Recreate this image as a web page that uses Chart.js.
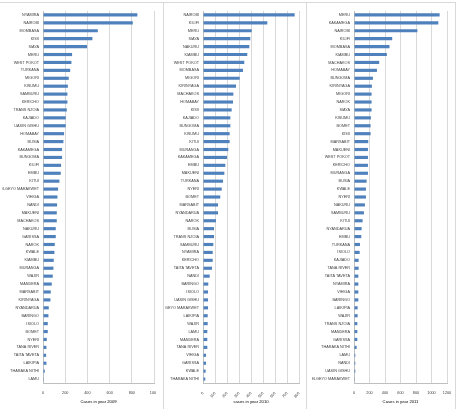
<!DOCTYPE html>
<html>
<head>
<meta charset="utf-8">
<script src="https://cdn.jsdelivr.net/npm/chart.js@4/dist/chart.umd.min.js"></script>
<style>
  html, body { margin: 0; padding: 0; background: #fff; }
  #wrap { position: relative; width: 463px; height: 409px; overflow: hidden; }
  canvas { position: absolute; top: 0; }
  .line { position: absolute; background: #d9d9d9; }
</style>
</head>
<body>
<div id="wrap">
  <div class="line" style="left:0;top:2px;width:456px;height:1px"></div>
  <div class="line" style="left:163px;top:2px;width:1px;height:407px"></div>
  <div class="line" style="left:306px;top:2px;width:1px;height:407px"></div>
  <div class="line" style="left:455px;top:2px;width:1px;height:407px"></div>
  <canvas id="c2009" width="154" height="409" style="left:2px"></canvas>
  <canvas id="c2010" width="141" height="409" style="left:165px"></canvas>
  <canvas id="c2011" width="144" height="409" style="left:312px"></canvas>
</div>
<script>
// cases per county, 2009
var counties2009 = ['NYAMIRA', 'NAIROBI', 'MOMBASA', 'KISII', 'SIAYA', 'MERU', 'WEST POKOT', 'TURKANA',
  'MIGORI', 'KISUMU', 'SAMBURU', 'KERICHO', 'TRANS NZOIA', 'KAJIADO', 'UASIN GISHU', 'HOMABAY',
  'BUSIA', 'KAKAMEGA', 'BUNGOMA', 'KILIFI', 'EMBU', 'KITUI', 'ELGEYO MARAKWET', 'VIHIGA', 'NANDI',
  'MAKUENI', 'MACHAKOS', 'NAKURU', 'GARISSA', 'NAROK', 'KWALE', 'KIAMBU', 'MURANGA', 'WAJIR',
  'MANDERA', 'MARSABIT', 'KIRINYAGA', 'NYANDARUA', 'BARINGO', 'ISIOLO', 'BOMET', 'NYERI',
  'TANA RIVER', 'TAITA TAVETA', 'LAIKIPIA', 'THARAKA NITHI', 'LAMU'];
var cases2009 = [850, 809, 494, 445, 397, 262, 256, 245, 232, 224, 220, 220, 214, 205, 205, 190,
  184, 172, 172, 163, 160, 148, 136, 130, 127, 124, 124, 115, 115, 106, 103, 97, 94, 88,
  79, 70, 67, 52, 49, 43, 43, 34, 31, 28, 31, 16, 7];
var ticks2009 = [0, 200, 400, 600, 800, 1000];

// cases per county, 2010
var counties2010 = ['NAIROBI', 'KILIFI', 'MERU', 'SIAYA', 'NAKURU', 'KIAMBU', 'WEST POKOT', 'MOMBASA',
  'MIGORI', 'KIRINYAGA', 'MACHAKOS', 'HOMABAY', 'KISII', 'KAJIADO', 'BUNGOMA', 'KISUMU',
  'KITUI', 'MURANGA', 'KAKAMEGA', 'EMBU', 'MAKUENI', 'TURKANA', 'NYERI', 'BOMET', 'MARSABIT',
  'NYANDARUA', 'NAROK', 'BUSIA', 'TRANS NZOIA', 'SAMBURU', 'NYAMIRA', 'KERICHO', 'TAITA TAVETA',
  'NANDI', 'BARINGO', 'ISIOLO', 'UASIN GISHU', 'ELGEYO MARAKWET', 'LAIKIPIA', 'WAJIR', 'LAMU',
  'MANDERA', 'TANA RIVER', 'VIHIGA', 'GARISSA', 'KWALE', 'THARAKA NITHI'];
var cases2010 = [764, 536, 406, 394, 386, 369, 344, 333, 306, 275, 253, 250, 239, 228, 228, 222,
  222, 211, 200, 186, 178, 167, 156, 144, 125, 125, 108, 92, 92, 86, 81, 81, 75,
  56, 44, 42, 42, 42, 39, 39, 36, 36, 36, 25, 25, 22, 19];
var ticks2010 = [0, 100, 200, 300, 400, 500, 600, 700, 800];

// cases per county, 2011
var counties2011 = ['MERU', 'KAKAMEGA', 'NAIROBI', 'KILIFI', 'MOMBASA', 'KIAMBU', 'MACHAKOS', 'HOMABAY',
  'BUNGOMA', 'KIRINYAGA', 'MIGORI', 'NAROK', 'SIAYA', 'KISUMU', 'BOMET', 'KISII',
  'MARSABIT', 'MAKUENI', 'WEST POKOT', 'KERICHO', 'MURANGA', 'BUSIA', 'KWALE', 'NYERI', 'NAKURU',
  'SAMBURU', 'KITUI', 'NYANDARUA', 'EMBU', 'TURKANA', 'ISIOLO', 'KAJIADO', 'TANA RIVER',
  'TAITA TAVETA', 'NYAMIRA', 'VIHIGA', 'BARINGO', 'LAIKIPIA', 'WAJIR', 'TRANS NZOIA', 'MANDERA',
  'GARISSA', 'THARAKA NITHI', 'LAMU', 'NANDI', 'UASIN GISHU', 'ELGEYO MARAKWET'];
var cases2011 = [1105, 1088, 818, 493, 458, 424, 325, 296, 244, 231, 227, 227, 227, 218, 214, 214,
  184, 180, 180, 180, 180, 163, 154, 154, 141, 128, 111, 98, 94, 77, 73, 60, 60,
  56, 56, 56, 56, 47, 47, 43, 43, 43, 34, 17, 17, 17, 4];
var ticks2011 = [0, 200, 400, 600, 800, 1000, 1200];

var barColor = '#4f81bd';
var gridColor = '#d9d9d9';
var labelFont = { family: 'Liberation Sans', size: 3.8 };

function makeChart(id, labels, values, ticks, title, yWidth, padRight) {
  return new Chart(document.getElementById(id), {
    type: 'bar',
    data: {
      labels: labels,
      datasets: [{
        data: values,
        backgroundColor: barColor,
        barPercentage: 0.4,
        categoryPercentage: 1
      }]
    },
    options: {
      indexAxis: 'y',
      responsive: false,
      animation: false,
      devicePixelRatio: 1,
      layout: { padding: { top: 11, right: padRight, bottom: 0, left: 0 } },
      plugins: { legend: { display: false }, tooltip: { enabled: false } },
      scales: {
        y: {
          grid: { display: false, drawTicks: false },
          border: { display: true, color: '#bfbfbf' },
          ticks: { autoSkip: false, padding: 4, color: '#404040', font: labelFont },
          afterFit: function (scale) { scale.width = yWidth; }
        },
        x: {
          min: ticks[0],
          max: ticks[ticks.length - 1],
          grid: { color: gridColor, drawTicks: false },
          border: { display: true, color: '#bfbfbf' },
          ticks: {
            stepSize: ticks[1] - ticks[0],
            padding: 8,
            color: '#404040',
            font: labelFont,
            callback: function (v) { return String(v); }
          },
          title: {
            display: true,
            text: title,
            color: '#000',
            font: { family: 'Liberation Sans', size: 4.2 },
            padding: { top: 0, bottom: 4.6 }
          },
          afterFit: function (scale) {
            scale.height = 26;
            scale.paddingLeft = 0;
            scale.paddingRight = 0;
          }
        }
      }
    }
  });
}

makeChart('c2009', counties2009, cases2009, ticks2009, 'Cases in year 2009', 41, 2);
makeChart('c2010', counties2010, cases2010, ticks2010, 'cases in year 2010', 38, 7);
makeChart('c2011', counties2011, cases2011, ticks2011, 'Cases in year 2011', 42, 9);
</script>
</body>
</html>
